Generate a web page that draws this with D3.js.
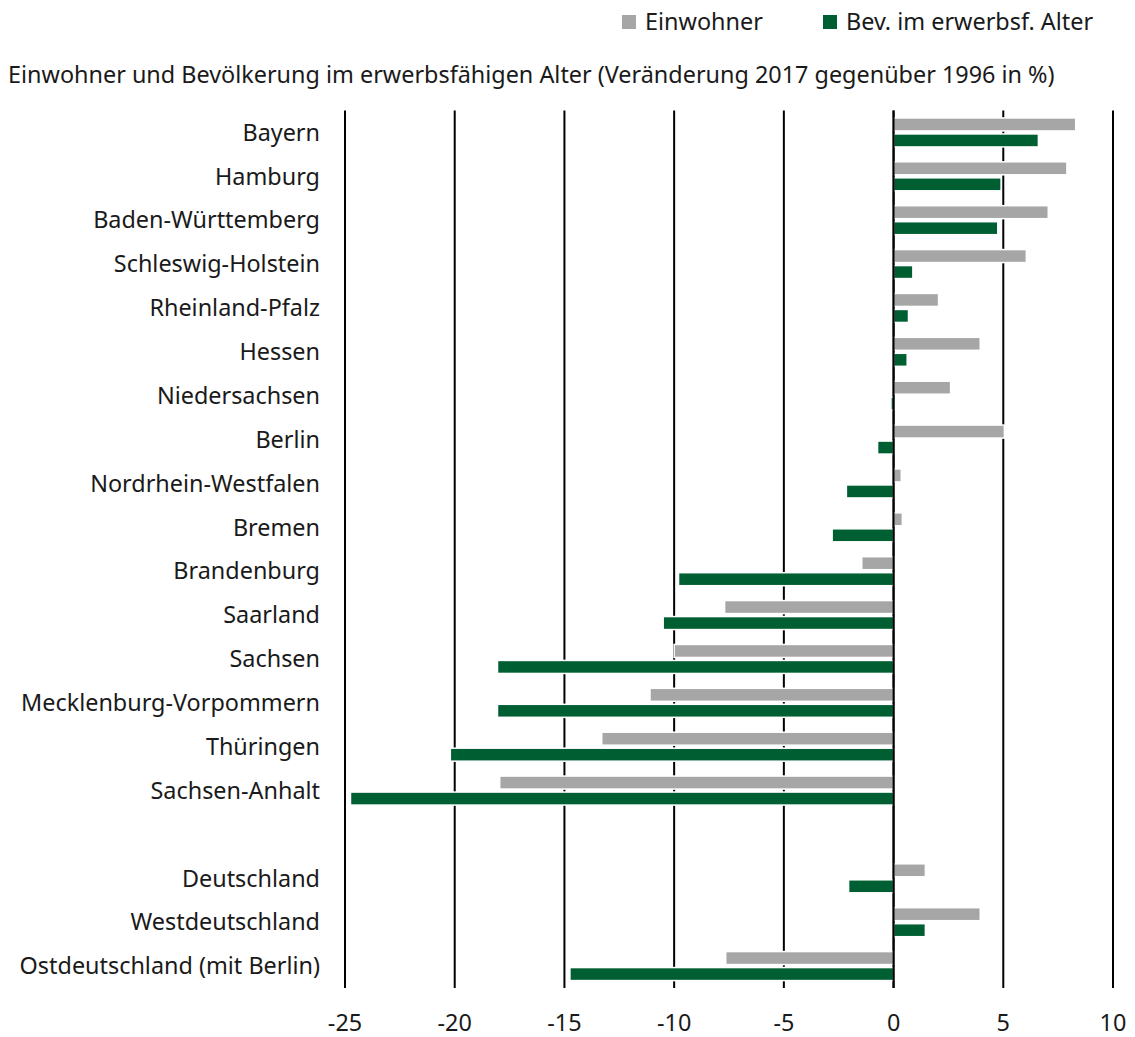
<!DOCTYPE html>
<html>
<head>
<meta charset="utf-8">
<script src="https://cdn.jsdelivr.net/npm/d3@7"></script>
<style>
  body { margin: 0; background: #fff; }
  svg text { font-family: "Noto Sans", Lato, sans-serif; fill: #1a1a1a; }
</style>
</head>
<body>
<svg id="chart" width="1135" height="1037"></svg>
<script>
// categories, "" = empty gap row between Länder and aggregates
const regions = ["Bayern", "Hamburg", "Baden-Württemberg", "Schleswig-Holstein", "Rheinland-Pfalz",
  "Hessen", "Niedersachsen", "Berlin", "Nordrhein-Westfalen", "Bremen", "Brandenburg", "Saarland",
  "Sachsen", "Mecklenburg-Vorpommern", "Thüringen", "Sachsen-Anhalt", "",
  "Deutschland", "Westdeutschland", "Ostdeutschland (mit Berlin)"];
const einwohner = [8.3, 7.9, 7.05, 6.05, 2.05, 3.95, 2.6, 5.05, 0.35, 0.4, -1.45, -7.7,
  -10.0, -11.1, -13.3, -17.95, null, 1.45, 3.95, -7.65];
const erwerbsAlter = [6.6, 4.9, 4.75, 0.88, 0.68, 0.62, -0.12, -0.73, -2.15, -2.8, -9.8, -10.5,
  -18.05, -18.05, -20.2, -24.75, null, -2.05, 1.45, -14.75];
const xTicks = [-25, -20, -15, -10, -5, 0, 5, 10];
const seriesNames = ["Einwohner", "Bev. im erwerbsf. Alter"];
const colors = ["#a6a6a6", "#005f32"];

const svg = d3.select("#chart");
const plotLeft = 345, plotRight = 1113, plotTop = 110.5, plotBottom = 988;
const fontSize = "23.4px";

const x = d3.scaleLinear().domain([-25, 10]).range([plotLeft, plotRight]);
const y = d3.scaleBand().domain(d3.range(regions.length)).range([plotTop, plotBottom]);
const barH = 13;

// grid lines (bars are drawn on top, white outline cuts them)
svg.append("g")
  .selectAll("line")
  .data(xTicks)
  .enter()
  .append("line")
  .attr("x1", d => x(d)).attr("x2", d => x(d))
  .attr("y1", plotTop).attr("y2", plotBottom)
  .attr("stroke", "#000")
  .attr("stroke-width", 2);

const rows = regions.map((r, i) => ({ i, vals: [einwohner[i], erwerbsAlter[i]] }))
  .filter(d => d.vals[0] !== null);

const barsG = svg.append("g");
rows.forEach(row => {
  const c = y(row.i) + y.bandwidth() / 2;
  row.vals.forEach((v, k) => {
    barsG.append("rect")
      .attr("x", Math.min(x(0), x(v)))
      .attr("y", k === 0 ? c - barH - 1.5 : c + 1.5)
      .attr("width", Math.abs(x(v) - x(0)))
      .attr("height", barH)
      .attr("fill", colors[k])
      .attr("stroke", "#fff")
      .attr("stroke-width", 1.5);
  });
});

// zero axis line
svg.append("line")
  .attr("x1", x(0)).attr("x2", x(0))
  .attr("y1", plotTop).attr("y2", plotBottom)
  .attr("stroke", "#000")
  .attr("stroke-width", 2);

// category labels
svg.append("g")
  .selectAll("text")
  .data(regions)
  .enter()
  .append("text")
  .attr("x", 320)
  .attr("y", (d, i) => y(i) + y.bandwidth() / 2)
  .attr("dy", "0.35em")
  .attr("text-anchor", "end")
  .attr("font-size", fontSize)
  .text(d => d);

// x tick labels
svg.append("g")
  .selectAll("text")
  .data(xTicks)
  .enter()
  .append("text")
  .attr("x", d => x(d))
  .attr("y", 1023)
  .attr("dy", "0.35em")
  .attr("text-anchor", "middle")
  .attr("font-size", fontSize)
  .text(d => d);

// title
svg.append("text")
  .attr("x", 8)
  .attr("y", 83)
  .attr("font-size", fontSize)
  .text("Einwohner und Bevölkerung im erwerbsfähigen Alter (Veränderung 2017 gegenüber 1996 in %)");

// legend
const legendX = [622, 823];
const leg = svg.append("g")
  .selectAll("g")
  .data(seriesNames)
  .enter()
  .append("g")
  .attr("transform", (d, i) => `translate(${legendX[i]},0)`);
leg.append("rect")
  .attr("x", 0).attr("y", 15)
  .attr("width", 14).attr("height", 14)
  .attr("fill", (d, i) => colors[i]);
leg.append("text")
  .attr("x", 23).attr("y", 22)
  .attr("dy", "0.35em")
  .attr("font-size", fontSize)
  .text(d => d);
</script>
</body>
</html>
